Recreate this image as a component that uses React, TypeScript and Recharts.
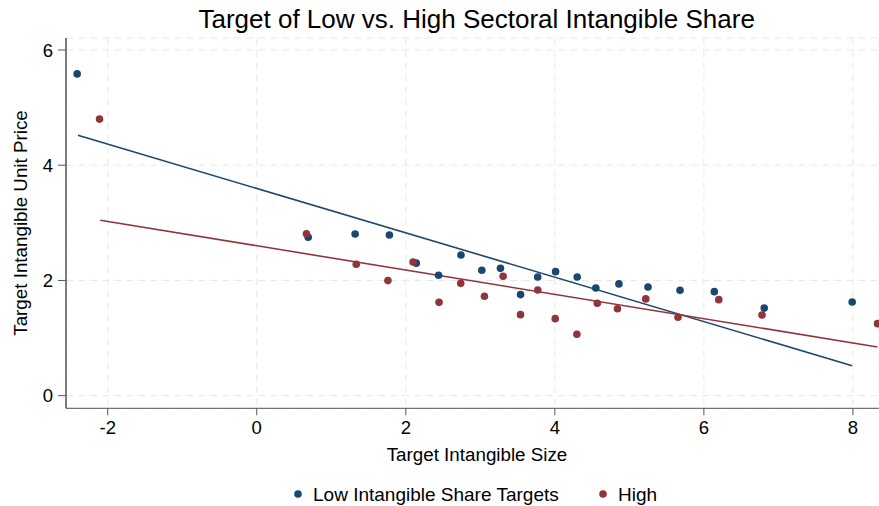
import React from 'react';
import { ScatterChart, Scatter, XAxis, YAxis, CartesianGrid, Legend } from 'recharts';

const lowX = [-2.41, 0.69, 1.32, 1.78, 2.14, 2.44, 2.74, 3.02, 3.27, 3.54, 3.77, 4.01, 4.30, 4.55, 4.86, 5.25, 5.68, 6.14, 6.81, 7.99];
const lowY = [5.585, 2.75, 2.807, 2.79, 2.30, 2.09, 2.443, 2.177, 2.21, 1.754, 2.06, 2.153, 2.06, 1.87, 1.94, 1.887, 1.83, 1.806, 1.52, 1.627];
const highX = [-2.11, 0.667, 1.335, 1.76, 2.097, 2.446, 2.737, 3.055, 3.306, 3.539, 3.771, 4.005, 4.296, 4.57, 4.84, 5.22, 5.653, 6.2, 6.78, 8.33];
const highY = [4.80, 2.81, 2.28, 1.997, 2.32, 1.62, 1.95, 1.726, 2.073, 1.406, 1.835, 1.337, 1.066, 1.604, 1.51, 1.68, 1.36, 1.667, 1.40, 1.25];
const lowFitX = [-2.40, 7.99];
const lowFitY = [4.52, 0.52];
const highFitX = [-2.10, 8.33];
const highFitY = [3.045, 0.845];
const xTicks = [-2, 0, 2, 4, 6, 8];
const yTicks = [0, 2, 4, 6];
const seriesNames = ['Low Intangible Share Targets', 'High'];

const BLUE = '#1a476f';
const RED = '#90353b';
const FONT = '"Liberation Sans", Arial, Helvetica, sans-serif';

const zip = (xs: number[], ys: number[]) => xs.map((x, i) => ({ x, y: ys[i] }));
const lowData = zip(lowX, lowY);
const highData = zip(highX, highY);
const lowFit = zip(lowFitX, lowFitY);
const highFit = zip(highFitX, highFitY);

const dot = (color: string) => (p: any) => <circle cx={p.cx} cy={p.cy} r={3.8} fill={color} />;
const noDot = () => <g />;

const LegendContent = () => (
  <svg width={879} height={30} style={{ display: 'block' }}>
    <circle cx={298} cy={18} r={3.8} fill={BLUE} />
    <text x={313} y={24.7} fontSize={19} fontFamily={FONT} fill="#000">{seriesNames[0]}</text>
    <circle cx={603} cy={18} r={3.8} fill={RED} />
    <text x={618} y={24.7} fontSize={19} fontFamily={FONT} fill="#000">{seriesNames[1]}</text>
  </svg>
);

export default function App() {
  return (
    <div style={{ position: 'absolute', left: 0, top: 0, background: '#fff' }}>
      <ScatterChart width={879} height={506} margin={{ top: 38, right: 0, bottom: 0, left: 0 }}>
        <CartesianGrid stroke="#e8e8e8" strokeDasharray="7 5" />
        <XAxis
          type="number"
          dataKey="x"
          domain={[-2.56, 8.35]}
          ticks={xTicks}
          allowDataOverflow
          height={67.7}
          tickSize={7}
          tickMargin={6}
          stroke="#555"
          tick={{ fill: '#000', fontSize: 18.5, fontFamily: FONT }}
          tickLine={{ stroke: '#555' }}
        />
        <YAxis
          type="number"
          dataKey="y"
          domain={[-0.219, 6.208]}
          ticks={yTicks}
          allowDataOverflow
          width={66}
          tickSize={8}
          tickMargin={5}
          stroke="#000"
          tick={{ fill: '#000', fontSize: 18.5, fontFamily: FONT }}
          tickLine={{ stroke: '#555' }}
        />
        <Legend verticalAlign="bottom" content={LegendContent} wrapperStyle={{ height: 30 }} />
        <Scatter data={lowFit} line={{ stroke: BLUE, strokeWidth: 1.6 }} shape={noDot} isAnimationActive={false} legendType="none" />
        <Scatter data={highFit} line={{ stroke: RED, strokeWidth: 1.6 }} shape={noDot} isAnimationActive={false} legendType="none" />
        <Scatter name={seriesNames[0]} data={lowData} shape={dot(BLUE)} isAnimationActive={false} />
        <Scatter name={seriesNames[1]} data={highData} shape={dot(RED)} isAnimationActive={false} />
        <text x={476.7} y={28} textAnchor="middle" fontSize={26} fontFamily={FONT} fill="#000">
          Target of Low vs. High Sectoral Intangible Share
        </text>
        <text x={477} y={461} textAnchor="middle" fontSize={18.8} fontFamily={FONT} fill="#000">
          Target Intangible Size
        </text>
        <text x={27} y={223} textAnchor="middle" fontSize={18.8} fontFamily={FONT} fill="#000" transform="rotate(-90 27 223)">
          Target Intangible Unit Price
        </text>
      </ScatterChart>
    </div>
  );
}
